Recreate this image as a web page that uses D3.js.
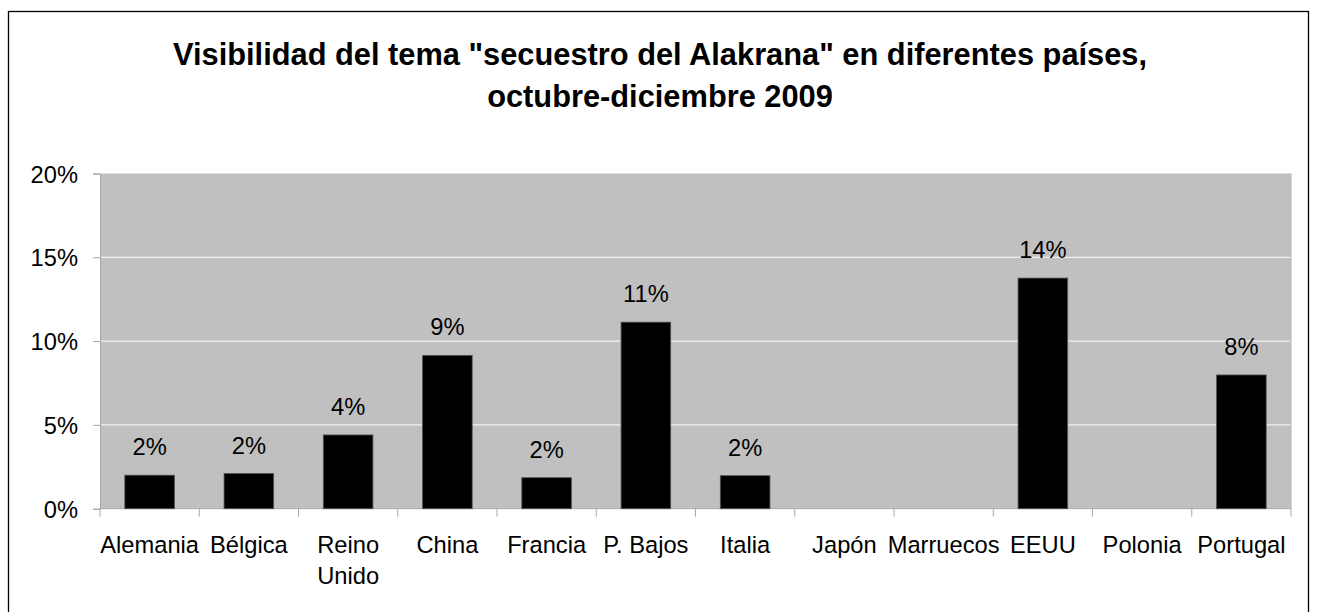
<!DOCTYPE html>
<html>
<head>
<meta charset="utf-8">
<script src="https://cdn.jsdelivr.net/npm/d3@7"></script>
<style>
  html, body { margin: 0; padding: 0; background: #fff; }
  svg { display: block; font-family: Arial, "Liberation Sans", sans-serif; }
</style>
</head>
<body>
<div id="chart"></div>
<script>
// data
const countries = ["Alemania", "Bélgica", "Reino Unido", "China", "Francia", "P. Bajos",
  "Italia", "Japón", "Marruecos", "EEUU", "Polonia", "Portugal"];
const shares = [2.0, 2.1, 4.4, 9.15, 1.85, 11.13, 1.97, null, null, 13.76, null, 7.98];
const yTicks = [0, 5, 10, 15, 20];
const titleLines = ['Visibilidad del tema "secuestro del Alakrana" en diferentes países,',
  "octubre-diciembre 2009"];

const width = 1320, height = 612;
const plot = { left: 100, right: 1291, top: 173.5, bottom: 508.7 };
const labelSize = 23.7;

const svg = d3.select("#chart").append("svg")
  .attr("width", width)
  .attr("height", height);

// outer chart frame (bottom edge runs past the picture)
svg.append("rect")
  .attr("x", 8.5).attr("y", 11.5)
  .attr("width", 1300).attr("height", 620)
  .attr("fill", "#fff")
  .attr("stroke", "#000")
  .attr("stroke-width", 1.3);

// title
svg.append("text")
  .attr("text-anchor", "middle")
  .attr("font-weight", "bold")
  .attr("font-size", 30.8)
  .attr("fill", "#000")
  .selectAll("tspan")
  .data(titleLines)
  .join("tspan")
  .attr("x", 660)
  .attr("y", (d, i) => 65 + i * 42)
  .text(d => d);

const x = d3.scaleBand()
  .domain(countries)
  .range([plot.left, plot.right])
  .paddingInner(0.5)
  .paddingOuter(0.25);

const y = d3.scaleLinear()
  .domain([0, 20])
  .range([plot.bottom, plot.top]);

// plot background
svg.append("rect")
  .attr("x", plot.left).attr("y", plot.top)
  .attr("width", plot.right - plot.left)
  .attr("height", plot.bottom - plot.top)
  .attr("fill", "#c0c0c0");

// gridlines
svg.append("g")
  .selectAll("line")
  .data(yTicks.filter(t => t > 0 && t < 20))
  .join("line")
  .attr("x1", plot.left).attr("x2", plot.right)
  .attr("y1", d => y(d)).attr("y2", d => y(d))
  .attr("stroke", "#f0f0f0")
  .attr("stroke-width", 1.3);

// right edge of plot area
svg.append("line")
  .attr("x1", plot.right).attr("x2", plot.right)
  .attr("y1", plot.top).attr("y2", plot.bottom)
  .attr("stroke", "#b4b4b4");

// y axis
const yAxis = svg.append("g")
  .attr("transform", `translate(${plot.left},0)`)
  .call(d3.axisLeft(y).tickValues(yTicks).tickFormat(d => d + "%").tickSize(7).tickPadding(15));
yAxis.select(".domain").attr("stroke", "#a8a8a8");
yAxis.selectAll(".tick line").attr("stroke", "#a8a8a8");
yAxis.selectAll(".tick text")
  .attr("font-size", labelSize)
  .attr("font-family", "Arial, 'Liberation Sans', sans-serif")
  .attr("fill", "#000")
  .attr("dy", "0.36em");

// x axis: ticks at category boundaries
const step = x.step();
const boundaries = d3.range(countries.length + 1).map(i => plot.left + i * step);
svg.append("line")
  .attr("x1", plot.left).attr("x2", plot.right)
  .attr("y1", plot.bottom).attr("y2", plot.bottom)
  .attr("stroke", "#a8a8a8");
svg.append("g")
  .selectAll("line")
  .data(boundaries)
  .join("line")
  .attr("x1", d => d).attr("x2", d => d)
  .attr("y1", plot.bottom).attr("y2", plot.bottom + 8)
  .attr("stroke", "#a8a8a8");

// category labels (wrap "Reino Unido")
const labels = svg.append("g")
  .attr("font-size", labelSize)
  .attr("text-anchor", "middle")
  .attr("fill", "#000")
  .selectAll("text")
  .data(countries)
  .join("text")
  .attr("transform", d => `translate(${x(d) + x.bandwidth() / 2},${plot.bottom + 44})`);
labels.selectAll("tspan")
  .data(d => d === "Reino Unido" ? ["Reino", "Unido"] : [d])
  .join("tspan")
  .attr("x", 0)
  .attr("y", (d, i) => i * 31)
  .text(d => d);

// bars
const barData = countries.map((c, i) => ({ country: c, value: shares[i] }))
  .filter(d => d.value != null);

svg.append("g")
  .selectAll("rect")
  .data(barData)
  .join("rect")
  .attr("x", d => x(d.country))
  .attr("y", d => y(d.value))
  .attr("width", x.bandwidth())
  .attr("height", d => y(0) - y(d.value))
  .attr("fill", "#000")
  .attr("stroke", "#555")
  .attr("stroke-width", 0.8);

// value labels
svg.append("g")
  .attr("font-size", labelSize)
  .attr("text-anchor", "middle")
  .attr("fill", "#000")
  .selectAll("text")
  .data(barData)
  .join("text")
  .attr("x", d => x(d.country) + x.bandwidth() / 2)
  .attr("y", d => y(d.value) - 20)
  .text(d => Math.round(d.value) + "%");
</script>
</body>
</html>
